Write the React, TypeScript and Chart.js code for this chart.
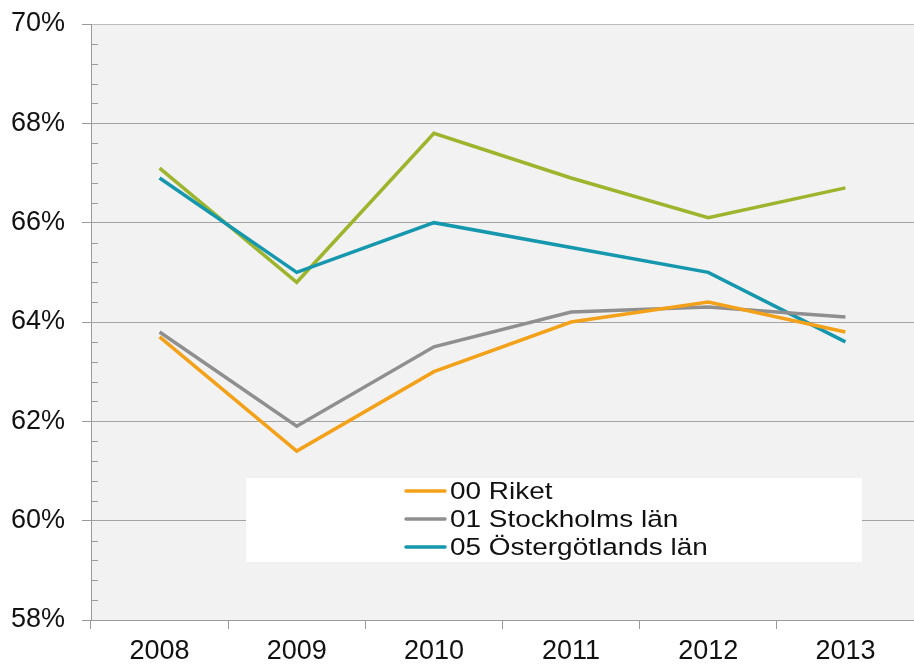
import React, { useEffect, useRef } from "react";
import { Chart, registerables } from "chart.js";

Chart.register(...registerables);

const years = ["2008", "2009", "2010", "2011", "2012", "2013"];
const riket = [63.7, 61.4, 63.0, 64.0, 64.4, 63.8];
const stockholm = [63.8, 61.9, 63.5, 64.2, 64.3, 64.1];
const ostergotland = [66.9, 65.0, 66.0, 65.5, 65.0, 63.6];
const ovrigt = [67.1, 64.8, 67.8, 66.9, 66.1, 66.7];
const seriesLabels = ["00 Riket", "01 Stockholms län", "05 Östergötlands län", "Övrigt"];
const legendCount = 3;

const yMin = 58;
const yMax = 70;
const yStep = 2;
const yMinorStep = 0.4;

const FONT = "'Liberation Sans', Arial, sans-serif";

const bgPlugin = {
  id: "bgPlugin",
  beforeDraw(chart: any) {
    const { ctx, chartArea } = chart;
    ctx.save();
    ctx.fillStyle = "#F2F2F2";
    ctx.fillRect(chartArea.left, chartArea.top, chartArea.right - chartArea.left, chartArea.bottom - chartArea.top);
    ctx.restore();
  },
  afterDraw(chart: any) {
    const { ctx, chartArea, scales } = chart;
    const y = scales.y;
    ctx.save();
    ctx.strokeStyle = "#9A9A9A";
    ctx.lineWidth = 1;
    for (let v = yMin + yMinorStep; v < yMax - 1e-6; v += yMinorStep) {
      const r = Math.round((v / yStep) * 1000) / 1000;
      if (Math.abs(r - Math.round(r)) < 1e-6) continue;
      const py = Math.round(y.getPixelForValue(v)) + 0.5;
      ctx.beginPath();
      ctx.moveTo(chartArea.left, py);
      ctx.lineTo(chartArea.left + 7, py);
      ctx.stroke();
    }
    // legend box
    const bx = 246, by = 478, bw = 616, bh = 84;
    ctx.fillStyle = "#FFFFFF";
    ctx.fillRect(bx, by, bw, bh);
    const ds = chart.data.datasets;
    for (let i = 0; i < legendCount; i++) {
      const cy = by + 13 + i * 28;
      ctx.strokeStyle = ds[i].borderColor;
      ctx.lineWidth = 3.5;
      ctx.lineCap = "round";
      ctx.beginPath();
      ctx.moveTo(406, cy);
      ctx.lineTo(445, cy);
      ctx.stroke();
      ctx.save();
      ctx.translate(450, cy);
      ctx.scale(1.14, 1);
      ctx.font = `24.5px ${FONT}`;
      ctx.textBaseline = "middle";
      ctx.textAlign = "left";
      ctx.fillStyle = "#111111";
      ctx.fillText(ds[i].label, 0, 1);
      ctx.restore();
    }
    ctx.restore();
  },
};

export default function App() {
  const ref = useRef<HTMLCanvasElement>(null);
  useEffect(() => {
    document.body.style.margin = "0";
    const colors = ["#F4A11A", "#8F8F8F", "#1597AE", "#9CB52D"];
    const values = [riket, stockholm, ostergotland, ovrigt];
    const chart = new Chart(ref.current!, {
      type: "line",
      data: {
        labels: years,
        datasets: values.map((d, i) => ({
          label: seriesLabels[i],
          data: d,
          borderColor: colors[i],
          backgroundColor: colors[i],
          borderWidth: 3.5,
          pointRadius: 0,
          tension: 0,
          fill: false,
        })),
      },
      options: {
        animation: false,
        responsive: false,
        maintainAspectRatio: false,
        layout: { padding: { top: 24, right: 0, left: 0, bottom: 0 } },
        plugins: { legend: { display: false }, tooltip: { enabled: false } },
        scales: {
          x: {
            type: "category",
            offset: true,
            grid: {
              offset: true,
              drawOnChartArea: false,
              drawTicks: true,
              tickLength: 9,
              tickColor: "#9A9A9A",
            },
            border: { display: true, color: "#9A9A9A", width: 1 },
            ticks: { color: "#111111", font: { family: FONT, size: 27 }, padding: 6, maxRotation: 0, autoSkip: false },
            afterFit(scale: any) {
              scale.height = 44;
              scale.paddingLeft = 0;
              scale.paddingRight = 0;
            },
          },
          y: {
            min: yMin,
            max: yMax,
            ticks: {
              stepSize: yStep,
              color: "#111111",
              font: { family: FONT, size: 27 },
              padding: 17,
              callback: (v: any) => `${v}%`,
            },
            grid: {
              color: (c: any) => (c.tick && c.tick.value === yMax ? "#BBBBBB" : "#A3A3A3"),
              tickColor: "#9A9A9A",
              tickLength: 9,
              drawTicks: true,
            },
            border: { display: true, color: "#9A9A9A", width: 1 },
            afterFit(scale: any) {
              scale.width = 91;
              scale.paddingTop = 0;
              scale.paddingBottom = 0;
            },
          },
        },
      },
      plugins: [bgPlugin],
    });
    return () => chart.destroy();
  }, []);
  return (
    <div style={{ position: "relative", width: 914, height: 664, background: "#FFFFFF" }}>
      <canvas ref={ref} width={914} height={664} style={{ display: "block", width: 914, height: 664 }} />
    </div>
  );
}
